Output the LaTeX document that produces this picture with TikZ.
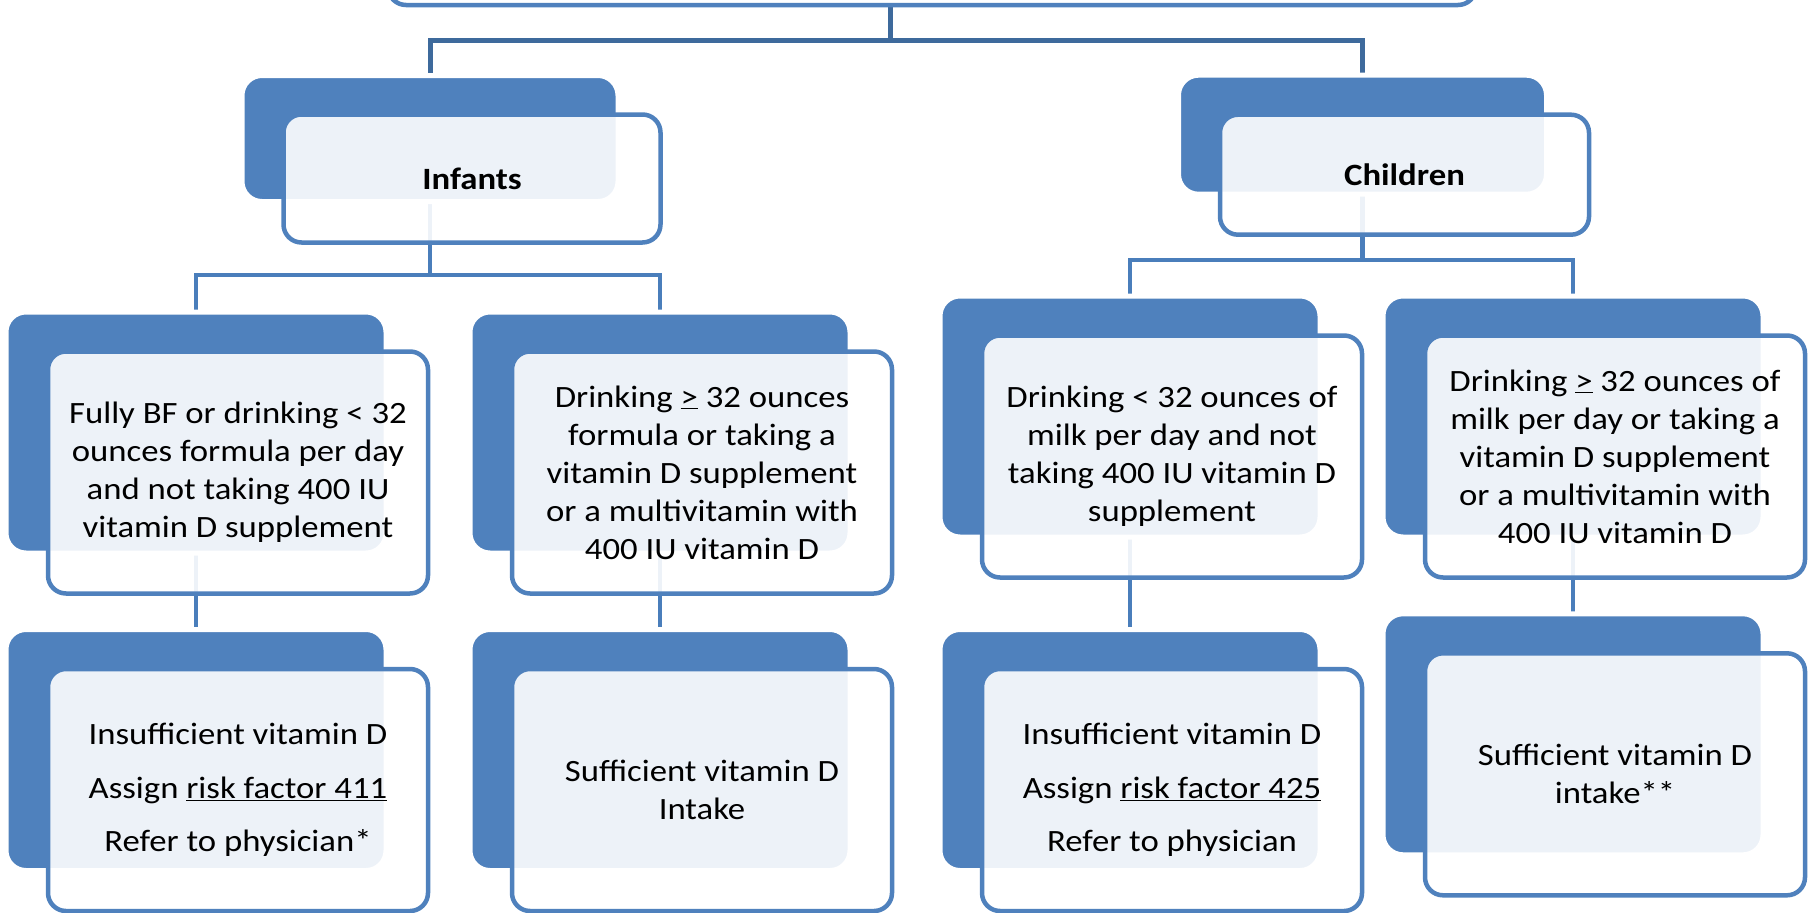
\documentclass[tikz,border=0pt]{standalone}
\usepackage{fontspec}
\setmainfont{Carlito}[FakeStretch=1.12]
\usetikzlibrary{
  calc,
  backgrounds
}
\definecolor{boxblue}{HTML}{4F81BD}
\definecolor{linkblue}{HTML}{4A7EBB}
\definecolor{rootblue}{HTML}{3E6A9C}
\tikzset{
  backbox/.style={fill=boxblue,draw=white,line width=5pt,rounded corners=20pt,
    minimum width=380pt,minimum height=241pt,inner sep=0pt},
  frontbox/.style={fill=white,fill opacity=0.9,text opacity=1,draw=boxblue,
    line width=4.5pt,rounded corners=18pt,minimum width=380pt,minimum height=242pt,
    inner sep=0pt,align=center,font=\fontsize{31}{38}\selectfont},
  headbox/.style={frontbox,font=\fontsize{31}{38}\selectfont\bfseries},
  link/.style={draw=linkblue,line width=4.5pt},
  rootlink/.style={draw=rootblue,line width=5pt},
}

\begin{document}
\begin{tikzpicture}[x=1pt,y=-1pt]
\useasboundingbox (0,0) rectangle (1818,913);
\node[frontbox,minimum width=1088pt,minimum height=128pt] (goal) at (932,-59) {};
\coordinate (rootjoin) at (890,40);
\coordinate (infjoin) at (430,275);
\coordinate (chjoin) at (1362.5,260);

\node[backbox,minimum width=376pt,minimum height=126pt] (infB) at (430,138.5) {};
\node[headbox,minimum width=377pt,minimum height=128pt] (inf) at ($(infB)+(42,40)$) {Infants};
\node[backbox,minimum width=368pt,minimum height=119pt] (chB) at (1362.5,134.7) {};
\node[headbox,minimum width=369pt,minimum height=120pt] (ch) at ($(chB)+(42,40)$) {Children};

\node[backbox] (bfB) at (196,432.5) {};
\node[frontbox] (bf) at ($(bfB)+(42,40)$) {Fully BF or drinking < 32\\ounces formula per day\\and not taking 400 IU\\vitamin D supplement};
\node[backbox] (formB) at (660,432.5) {};
\node[frontbox] (form) at ($(formB)+(42,40)$) {Drinking \underline{>} 32 ounces\\formula or taking a\\vitamin D supplement\\or a multivitamin with\\400 IU vitamin D};
\node[backbox] (lowB) at (1130,416.5) {};
\node[frontbox] (low) at ($(lowB)+(42,40)$) {Drinking < 32 ounces of\\milk per day and not\\taking 400 IU vitamin D\\supplement};
\node[backbox] (highB) at (1573,416.5) {};
\node[frontbox] (high) at ($(highB)+(42,40)$) {Drinking \underline{>} 32 ounces of\\milk per day or taking a\\vitamin D supplement\\or a multivitamin with\\400 IU vitamin D};

\node[backbox] (insaB) at (196,750) {};
\node[frontbox] (insa) at ($(insaB)+(42,40)$) {Insufficient vitamin D\\[15.5pt]Assign \underline{risk factor 411}\\[15.5pt]Refer to physician*};
\node[backbox] (sufaB) at (660,750) {};
\node[frontbox] (sufa) at ($(sufaB)+(42,40)$) {Sufficient vitamin D\\Intake};
\node[backbox] (insbB) at (1130,750) {};
\node[frontbox] (insb) at ($(insbB)+(42,40)$) {Insufficient vitamin D\\[15.5pt]Assign \underline{risk factor 425}\\[15.5pt]Refer to physician};
\node[backbox] (sufbB) at (1573,734.3) {};
\node[frontbox] (sufb) at ($(sufbB)+(42,40)$) {Sufficient vitamin D\\intake**};

\begin{scope}[on background layer]
\draw[rootlink] (rootjoin |- goal.south) -- (rootjoin);
\draw[rootlink] (infB.center) |- (rootjoin) -| (chB.center);
\draw[link] (infB.center) -- (infjoin);
\draw[link] (bfB.center) |- (infjoin) -| (formB.center);
\draw[link] (chB.center) -- (chjoin);
\draw[link] (lowB.center) |- (chjoin) -| (highB.center);
\draw[link] (bfB.center) -- (insaB.center);
\draw[link] (formB.center) -- (sufaB.center);
\draw[link] (lowB.center) -- (insbB.center);
\draw[link] (highB.center) -- (sufbB.center);
\end{scope}
\end{tikzpicture}
\end{document}
